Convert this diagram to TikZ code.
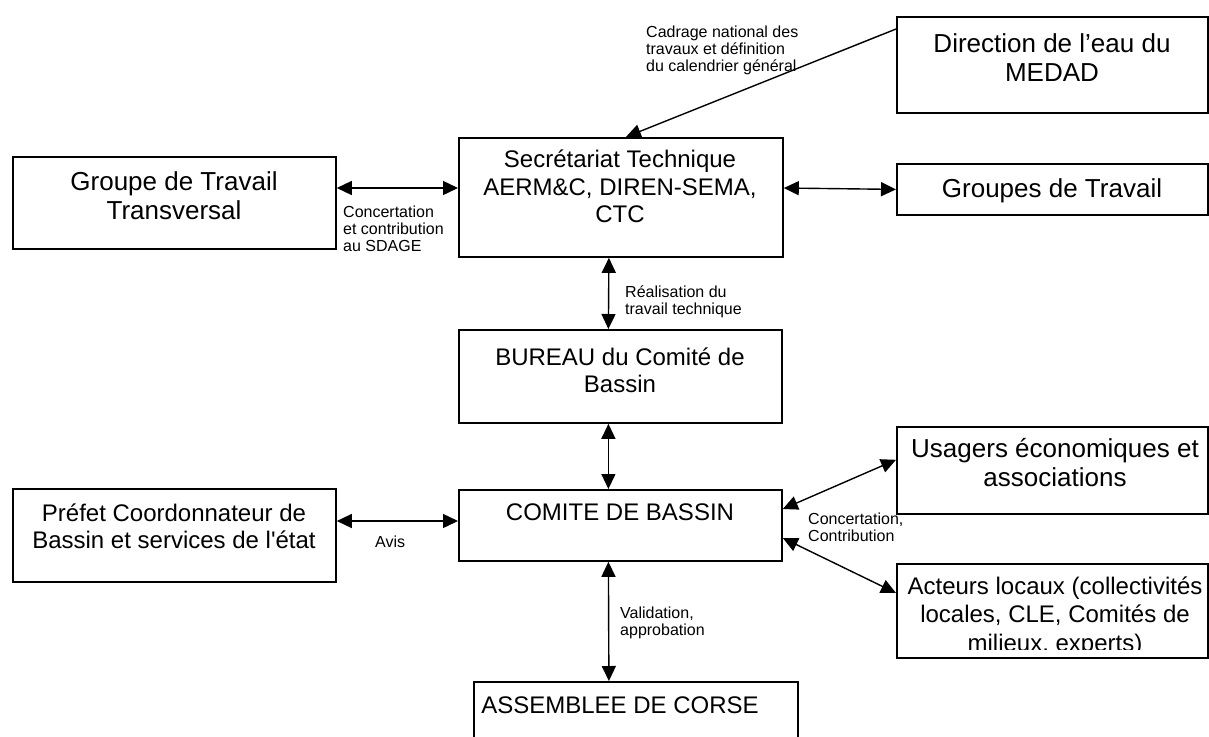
\documentclass[tikz,border=0pt]{standalone}
\usepackage{fontspec}
\setmainfont{Liberation Sans}[Ligatures=TeXOff]
\usetikzlibrary{arrows.meta,calc}

\begin{document}
\begin{tikzpicture}[x=1pt, y=-1pt,
    box/.style={draw, line width=1.8pt, inner sep=0pt, anchor=north west},
    big/.style={font=\fontsize{26}{29}\selectfont, align=center, inner sep=0pt, anchor=base},
    mid/.style={font=\fontsize{24}{27.5}\selectfont, align=center, inner sep=0pt, anchor=base},
    lbl/.style={font=\fontsize{16}{17}\selectfont, align=left, inner sep=0pt, anchor=base west},
    tip/.tip={Triangle[length=15pt,width=14pt]},
    link/.style={line width=1.4pt, -tip},
    both/.style={line width=1.4pt, tip-tip}]

    \useasboundingbox (0,0) rectangle (1209,736);

    % Boxes
    \node[box, minimum width=311pt, minimum height=96pt]  (dir) at (896,16)  {};
    \node[box, minimum width=324pt, minimum height=119pt] (sec) at (458,137) {};
    \node[box, minimum width=323pt, minimum height=92pt]  (grp) at (12,156)  {};
    \node[box, minimum width=311pt, minimum height=51pt]  (gdt) at (896,163) {};
    \node[box, minimum width=323pt, minimum height=93pt]  (bur) at (458,329) {};
    \node[box, minimum width=311pt, minimum height=87pt]  (usa) at (896,426) {};
    \node[box, minimum width=323pt, minimum height=71pt]  (com) at (458,489) {};
    \node[box, minimum width=323pt, minimum height=93pt]  (pre) at (12,488)  {};
    \node[box, minimum width=311pt, minimum height=94pt]  (act) at (896,563) {};
    \node[box, minimum width=324pt, minimum height=80pt]  (ass) at (473,681) {};

    % Box texts (placed at the baseline of their last line)
    \node[big] (dirT) at (1052,81)    {Direction de l’eau du\\MEDAD};
    \node[mid] (secT) at (620,222.5)  {Secrétariat Technique\\AERM\&C, DIREN-SEMA,\\CTC};
    \node[big] (grpT) at (174,219)    {Groupe de Travail\\Transversal};
    \node[big] (gdtT) at (1052,197)   {Groupes de Travail};
    \node[mid] (burT) at (620,392.5)  {BUREAU du Comité de\\Bassin};
    \node[big] (usaT) at (1055,486)   {Usagers économiques et\\associations};
    \node[mid] (comT) at (620,520.5)  {COMITE DE BASSIN};
    \node[mid] (preT) at (174,548.5)  {Préfet Coordonnateur de\\Bassin et services de l'état};
    \node[mid] (assT) at (620,713.5)  {ASSEMBLEE DE CORSE};
    \begin{scope}
        \clip (act.north west) rectangle ([yshift=9pt]act.south east);
        \node[font=\fontsize{24}{28.5}\selectfont, align=center, inner sep=0pt, anchor=base] (actT) at (1055,651)
            {Acteurs locaux (collectivités\\locales, CLE, Comités de\\milieux, experts)};
    \end{scope}

    % Arrows
    \draw[link] ([yshift=-13pt]dir.north west) -- ([xshift=5pt]sec.north);
    \draw[both] ([yshift=-32pt]grp.north east) -- ([yshift=-51pt]sec.north west);
    \draw[both] ([yshift=-51pt]sec.north east) -- (gdt.west);
    \draw[both] ([xshift=-12pt]sec.south) -- ([xshift=-12pt]bur.north);
    \draw[both] ([xshift=-12pt]bur.south) -- ([xshift=-12pt]com.north);
    \draw[both] ([yshift=-33pt]pre.north east) -- ([yshift=-32pt]com.north west);
    \draw[both] ([yshift=-20pt]com.north east) -- ([yshift=55pt]usa.south west);
    \draw[both] ([yshift=-49pt]com.north east) -- ([yshift=-30pt]act.north west);
    \draw[both] ([xshift=-12pt]com.south) -- ([xshift=-27pt]ass.north);

    % Labels (placed at the baseline of their last line)
    \node[lbl] (cadL) at (646,71)    {Cadrage national des\\travaux et définition\\du calendrier général};
    \node[lbl] (conL) at (343,251)   {Concertation\\et contribution\\au SDAGE};
    \node[lbl] (reaL) at (625,314)   {Réalisation du\\travail technique};
    \node[lbl] (aviL) at (375,547.5) {Avis};
    \node[lbl] (ctrL) at (808,541)   {Concertation,\\Contribution};
    \node[lbl] (valL) at (620,635)   {Validation,\\approbation};
\end{tikzpicture}
\end{document}
